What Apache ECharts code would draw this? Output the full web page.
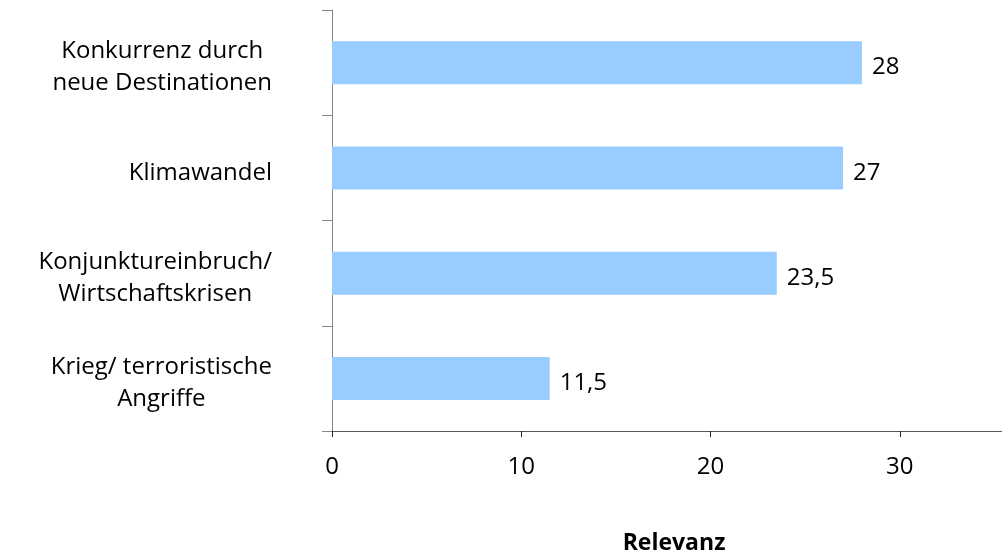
<!DOCTYPE html>
<html>
<head>
<meta charset="utf-8">
<script src="https://cdn.jsdelivr.net/npm/echarts@6/dist/echarts.min.js"></script>
<style>
  html, body { margin: 0; padding: 0; background: #ffffff; }
  #chart { width: 1002px; height: 560px; }
</style>
</head>
<body>
<div id="chart"></div>
<script>
// Risk factors (top to bottom) and their relevance scores
const categories = [
  'Konkurrenz durch\nneue Destinationen',
  'Klimawandel',
  'Konjunktureinbruch/\nWirtschaftskrisen',
  'Krieg/ terroristische\nAngriffe'
];
const relevanz = [28, 27, 23.5, 11.5];
const xTicks = [0, 10, 20, 30];
const axisTitle = 'Relevanz';

const FONT = 'Open Sans';
const SIZE = 24;
const chart = echarts.init(document.getElementById('chart'), null, { renderer: 'canvas' });

chart.setOption({
  animation: false,
  backgroundColor: '#ffffff',
  grid: { left: 332, right: 0, top: 10, bottom: 128, containLabel: false },
  xAxis: {
    type: 'value',
    min: 0,
    max: 35.4,
    interval: 10,
    splitLine: { show: false },
    axisLine: { show: true, lineStyle: { color: '#595959', width: 1 } },
    axisTick: { show: true, length: 6, customValues: xTicks, lineStyle: { color: '#262626' } },
    axisLabel: {
      customValues: xTicks,
      margin: 24,
      fontFamily: FONT, fontSize: SIZE, color: '#000000'
    },
    name: axisTitle,
    nameLocation: 'middle',
    nameGap: 101,
    nameTextStyle: {
      fontFamily: FONT, fontSize: 23, fontWeight: 'bold', color: '#000000',
      padding: [0, 0, 0, 14]
    }
  },
  yAxis: {
    type: 'category',
    inverse: true,
    data: categories,
    axisLine: { show: true, lineStyle: { color: '#868686', width: 1 } },
    axisTick: { show: true, length: 10, alignWithLabel: false, lineStyle: { color: '#868686' } },
    axisLabel: {
      margin: 60,
      align: 'right',
      padding: [10, 0, 0, 0],
      formatter: v => v.split('\n').map(s => '{c|' + s + '}').join('\n'),
      rich: {
        c: { align: 'center', fontFamily: FONT, fontSize: SIZE, lineHeight: 32, color: '#000000' }
      }
    }
  },
  series: [{
    type: 'bar',
    data: relevanz,
    barWidth: 43,
    itemStyle: { color: '#99CCFF' },
    label: {
      show: true,
      position: 'right',
      distance: 10,
      offset: [0, 5],
      fontFamily: FONT, fontSize: SIZE, color: '#000000',
      formatter: p => String(p.value).replace('.', ',')
    }
  }]
});
</script>
</body>
</html>
